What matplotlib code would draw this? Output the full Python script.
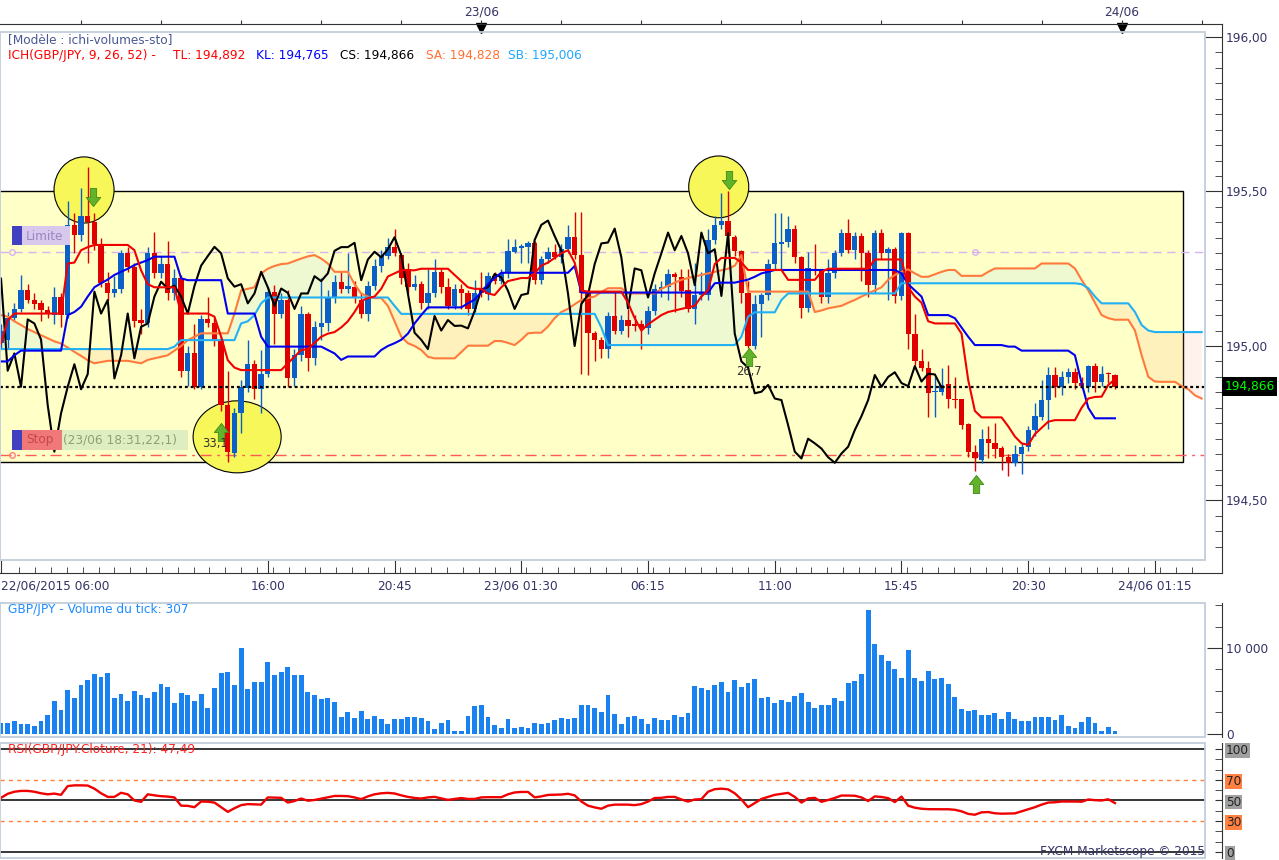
import numpy as np
import matplotlib.pyplot as plt
from matplotlib.patches import Rectangle, Ellipse
from matplotlib.path import Path
from matplotlib.ticker import FixedLocator, FixedFormatter, MultipleLocator

W, H = 1279, 860
plt.rcParams['font.family'] = 'DejaVu Sans'
plt.rcParams['font.size'] = 8.7

# GBP/JPY 15 min candles, 22/06/2015 06:00 -> 23/06/2015 23:45
op = [195.01, 195.02, 195.09, 195.12, 195.18, 195.15, 195.138, 195.118, 195.10, 195.16,
      195.10, 195.39, 195.36, 195.42, 195.40, 195.33, 195.205, 195.17, 195.186, 195.30,
      195.256, 195.084, 195.073, 195.30, 195.235, 195.264, 195.17, 195.219, 194.92, 194.976,
      194.868, 195.086, 195.073, 195.021, 194.809, 194.653, 194.782, 194.863, 194.941, 194.86,
      194.909, 195.176, 195.105, 195.149, 194.895, 194.97, 195.105, 194.96, 195.062, 195.073,
      195.16, 195.208, 195.186, 195.19, 195.15, 195.105, 195.194, 195.26, 195.291, 195.32,
      195.294, 195.25, 195.19, 195.20, 195.138, 195.17, 195.24, 195.19, 195.13, 195.186,
      195.172, 195.12, 195.187, 195.167, 195.226, 195.21, 195.235, 195.305, 195.318, 195.32,
      195.334, 195.213, 195.28, 195.305, 195.287, 195.313, 195.352, 195.294, 195.17, 195.043,
      195.02, 194.99, 195.097, 195.05, 195.084, 195.068, 195.07, 195.057, 195.113, 195.183,
      195.19, 195.233, 195.222, 195.18, 195.12, 195.165, 195.165, 195.343, 195.392, 195.405,
      195.354, 195.308, 195.17, 195.00, 195.136, 195.165, 195.265, 195.33, 195.335, 195.38,
      195.287, 195.122, 195.25, 195.245, 195.157, 195.235, 195.30, 195.367, 195.31, 195.356,
      195.30, 195.197, 195.367, 195.30, 195.313, 195.162, 195.365, 195.04, 194.95, 194.928,
      194.85, 194.85, 194.877, 194.83, 194.827, 194.747, 194.658, 194.63, 194.70, 194.685,
      194.67, 194.64, 194.622, 194.652, 194.674, 194.728, 194.771, 194.825, 194.906, 194.868,
      194.90, 194.915, 194.88, 194.868, 194.935, 194.885, 194.91, 194.905]
hi = [195.07, 195.11, 195.14, 195.23, 195.20, 195.17, 195.15, 195.13, 195.19, 195.17,
      195.47, 195.43, 195.51, 195.58, 195.43, 195.35, 195.24, 195.225, 195.31, 195.32,
      195.27, 195.12, 195.32, 195.37, 195.29, 195.34, 195.25, 195.23, 195.00, 195.07,
      195.10, 195.16, 195.09, 195.03, 194.92, 194.80, 194.89, 195.02, 194.955, 194.987,
      195.19, 195.198, 195.17, 195.18, 194.99, 195.13, 195.11, 195.08, 195.219, 195.18,
      195.23, 195.24, 195.30, 195.21, 195.17, 195.21, 195.28, 195.31, 195.35, 195.38,
      195.30, 195.27, 195.23, 195.21, 195.25, 195.28, 195.25, 195.22, 195.20, 195.20,
      195.18, 195.215, 195.24, 195.24, 195.24, 195.25, 195.345, 195.345, 195.33, 195.34,
      195.34, 195.29, 195.32, 195.33, 195.33, 195.39, 195.435, 195.435, 195.18, 195.05,
      195.03, 195.11, 195.175, 195.10, 195.12, 195.10, 195.085, 195.13, 195.20, 195.21,
      195.25, 195.24, 195.25, 195.25, 195.27, 195.24, 195.38, 195.42, 195.495, 195.50,
      195.36, 195.31, 195.21, 195.165, 195.17, 195.28, 195.43, 195.43, 195.42, 195.39,
      195.29, 195.305, 195.33, 195.25, 195.28, 195.31, 195.38, 195.41, 195.37, 195.365,
      195.31, 195.375, 195.38, 195.32, 195.32, 195.37, 195.37, 195.105, 194.99, 194.95,
      194.90, 194.93, 194.94, 194.90, 194.83, 194.75, 194.68, 194.73, 194.74, 194.75,
      194.675, 194.65, 194.68, 194.685, 194.74, 194.815, 194.89, 194.933, 194.933, 194.92,
      194.93, 194.93, 194.90, 194.94, 194.946, 194.935, 194.915, 194.91]
lo = [194.99, 194.99, 195.08, 195.11, 195.14, 195.12, 195.08, 195.09, 195.07, 195.06,
      195.09, 195.30, 195.34, 195.27, 195.31, 195.19, 195.15, 195.16, 195.17, 195.24,
      195.06, 195.04, 195.06, 195.22, 195.22, 195.15, 195.15, 194.90, 194.87, 194.86,
      194.86, 195.06, 195.00, 194.79, 194.625, 194.64, 194.72, 194.85, 194.83, 194.782,
      194.90, 195.008, 195.09, 194.868, 194.87, 194.95, 194.92, 194.94, 195.02, 195.05,
      195.14, 195.17, 195.17, 195.14, 195.09, 195.08, 195.18, 195.24, 195.28, 195.29,
      195.20, 195.17, 195.18, 195.12, 195.12, 195.16, 195.17, 195.12, 195.12, 195.12,
      195.10, 195.11, 195.16, 195.15, 195.20, 195.20, 195.22, 195.30, 195.27, 195.27,
      195.20, 195.20, 195.27, 195.28, 195.27, 195.30, 195.28, 194.91, 194.906, 194.95,
      194.96, 194.96, 195.04, 195.04, 195.03, 195.05, 194.99, 195.04, 195.10, 195.16,
      195.15, 195.11, 195.16, 195.11, 195.07, 195.15, 195.15, 195.33, 195.38, 195.30,
      195.29, 195.14, 194.995, 194.99, 195.03, 195.15, 195.25, 195.25, 195.32, 195.27,
      195.09, 195.11, 195.23, 195.14, 195.14, 195.22, 195.29, 195.30, 195.28, 195.21,
      195.16, 195.17, 195.28, 195.15, 195.14, 195.15, 194.99, 194.94, 194.92, 194.77,
      194.77, 194.84, 194.80, 194.80, 194.73, 194.64, 194.594, 194.62, 194.636, 194.636,
      194.60, 194.58, 194.61, 194.587, 194.66, 194.71, 194.76, 194.73, 194.836, 194.84,
      194.88, 194.86, 194.86, 194.85, 194.85, 194.87, 194.88, 194.86]
cl = [195.05, 195.09, 195.12, 195.18, 195.15, 195.135, 195.118, 195.105, 195.16, 195.10,
      195.39, 195.36, 195.42, 195.40, 195.33, 195.205, 195.17, 195.186, 195.30, 195.256,
      195.08, 195.073, 195.30, 195.235, 195.264, 195.17, 195.219, 194.92, 194.976, 194.868,
      195.086, 195.073, 195.021, 194.809, 194.658, 194.782, 194.868, 194.941, 194.86, 194.909,
      195.176, 195.105, 195.149, 194.895, 194.97, 195.105, 194.96, 195.062, 195.073, 195.16,
      195.208, 195.186, 195.195, 195.16, 195.105, 195.194, 195.26, 195.291, 195.321, 195.30,
      195.219, 195.192, 195.20, 195.138, 195.17, 195.24, 195.19, 195.13, 195.186, 195.172,
      195.12, 195.17, 195.17, 195.226, 195.21, 195.235, 195.308, 195.32, 195.32, 195.334,
      195.213, 195.28, 195.305, 195.287, 195.313, 195.352, 195.294, 195.17, 195.043, 195.02,
      194.99, 195.097, 195.05, 195.084, 195.065, 195.066, 195.057, 195.113, 195.183, 195.19,
      195.233, 195.222, 195.179, 195.12, 195.165, 195.17, 195.343, 195.392, 195.406, 195.356,
      195.309, 195.17, 195.00, 195.136, 195.165, 195.265, 195.332, 195.335, 195.38, 195.287,
      195.122, 195.251, 195.245, 195.157, 195.235, 195.30, 195.367, 195.31, 195.356, 195.30,
      195.197, 195.367, 195.30, 195.313, 195.162, 195.365, 195.04, 194.95, 194.93, 194.847,
      194.852, 194.874, 194.83, 194.825, 194.744, 194.658, 194.636, 194.70, 194.685, 194.668,
      194.64, 194.622, 194.652, 194.674, 194.728, 194.773, 194.825, 194.906, 194.868, 194.90,
      194.915, 194.88, 194.87, 194.935, 194.885, 194.91, 194.908, 194.866]

volume = [1232, 1309, 1500, 1155, 1155, 963, 1500, 2195, 3810, 2772,
          5082, 4158, 5660, 6237, 6930, 6622, 7045, 4158, 4620, 3810,
          4966, 4504, 4158, 4851, 5775, 5428, 3580, 4735, 4504, 3810,
          4620, 3003, 5313, 7045, 7161, 5660, 10048, 5197, 6006, 6006,
          8316, 6814, 7161, 7738, 6814, 6814, 4851, 4504, 4042, 4158,
          3696, 1963, 2541, 1848, 2656, 1732, 2079, 1732, 1155, 1732,
          1732, 1963, 1963, 1848, 1500, 577, 1270, 1617, 346, 346,
          2079, 3234, 3349, 1963, 1039, 693, 1732, 693, 808, 693,
          1270, 1193, 1270, 1617, 1848, 1771, 1848, 3349, 3349, 3003,
          2541, 4504, 2310, 1155, 1963, 2079, 1732, 1155, 1848, 1617,
          1617, 2195, 1963, 2425, 5544, 5313, 5082, 5660, 6006, 4851,
          6237, 5428, 5890, 6352, 4158, 4273, 3580, 3927, 3696, 4389,
          4735, 3696, 3003, 3349, 3349, 4158, 3811, 5890, 6121, 6930,
          14437, 10510, 9240, 8431, 7507, 6468, 9817, 6468, 6121, 7276,
          6352, 6468, 5775, 4273, 2887, 2656, 2772, 2195, 2195, 2425,
          1732, 2541, 1732, 1500, 1500, 1963, 1963, 1963, 1617, 2195,
          924, 693, 1386, 1963, 1270, 346, 808, 307]

rsi = [52.6, 56.5, 58.5, 59.3, 59.3, 58.5, 57, 56, 56.7, 55.5,
       64, 64.7, 64.7, 64.5, 61.5, 57, 53.5, 53.5, 57.5, 56,
       50, 48.7, 56, 55, 54.2, 53.8, 53, 45, 44.8, 43.5,
       49, 48.8, 48, 43.5, 39, 42.5, 45.5, 46.5, 46.2, 46,
       53, 52.8, 52.6, 48, 49.5, 51.9, 49.8, 50.5, 51.8, 53,
       54.4, 54.4, 54.2, 53, 51.3, 54, 56, 57, 57.4, 56.8,
       55, 53.5, 52.5, 51.9, 53, 53.5, 52, 50.6, 51.5, 52.4,
       51.5, 51.5, 53, 53.2, 53.2, 53.2, 56, 57.8, 58.3, 58.3,
       53, 54, 55.4, 55.6, 55.8, 56.5, 55, 49, 45, 43.3,
       42, 45, 46, 46, 46, 45.5, 46.5, 49, 52.4, 52.6,
       53.5, 53.5, 51, 49, 51, 51.3, 58.5, 61, 61.5, 60.8,
       57, 51, 43.5, 47.5, 51.5, 53.5, 55.5, 56.5, 57.4, 53.5,
       48, 52, 52.6, 48.7, 50.5, 52.5, 54.8, 54.8, 54.6, 53,
       49.5, 54, 53.4, 52.3, 48.5, 53.8, 45, 43, 42, 41.6,
       41.5, 41.5, 41.5, 41, 39.5, 37, 36.2, 38.5, 38.8, 37.6,
       37.2, 37.3, 37.5, 39.5, 41.5, 43.5, 46, 48, 48.3, 49,
       49, 49, 48.8, 51, 50.3, 50, 51.2, 47.49]

# Ichimoku (9, 26, 52) lines
tenkan = [195.008, 195.084, 195.105, 195.105, 195.105, 195.105, 195.105, 195.105, 195.105, 195.105,
          195.267, 195.27, 195.31, 195.32, 195.327, 195.327, 195.327, 195.327, 195.327, 195.327,
          195.31, 195.245, 195.20, 195.19, 195.19, 195.19, 195.19, 195.105, 195.105, 195.105,
          195.105, 195.105, 195.095, 195.03, 194.954, 194.93, 194.922, 194.922, 194.922, 194.922,
          194.922, 194.922, 194.922, 194.944, 194.965, 194.987, 194.99, 195.01, 195.03, 195.04,
          195.045, 195.06, 195.08, 195.11, 195.145, 195.155, 195.16, 195.185, 195.225, 195.235,
          195.245, 195.245, 195.245, 195.25, 195.25, 195.25, 195.25, 195.25, 195.23, 195.21,
          195.19, 195.185, 195.185, 195.17, 195.165, 195.19, 195.21, 195.215, 195.22, 195.22,
          195.235, 195.26, 195.27, 195.285, 195.30, 195.31, 195.27, 195.18, 195.176, 195.176,
          195.176, 195.176, 195.176, 195.176, 195.14, 195.09, 195.05, 195.07, 195.085, 195.10,
          195.11, 195.115, 195.12, 195.125, 195.13, 195.16, 195.18, 195.265, 195.285, 195.285,
          195.285, 195.27, 195.246, 195.246, 195.246, 195.246, 195.246, 195.246, 195.214, 195.214,
          195.214, 195.214, 195.214, 195.24, 195.25, 195.25, 195.25, 195.25, 195.25, 195.25,
          195.25, 195.28, 195.28, 195.28, 195.28, 195.28, 195.19, 195.16, 195.14, 195.08,
          195.073, 195.073, 195.073, 195.073, 195.04, 194.89, 194.79, 194.769, 194.769, 194.769,
          194.769, 194.74, 194.707, 194.685, 194.68, 194.715, 194.735, 194.755, 194.76, 194.76,
          194.76, 194.76, 194.80, 194.83, 194.835, 194.836, 194.874, 194.892]
kijun = ([194.95, 194.95, 194.97] + [194.985] * 7 +
         [195.10, 195.11, 195.127, 195.16, 195.19, 195.203, 195.215, 195.23, 195.24, 195.25,
          195.262, 195.27, 195.278, 195.289, 195.289, 195.289, 195.289, 195.219] +
         [195.213] * 6 + [195.105] * 5 + [195.03] + [194.998] * 9 +
         [194.987, 194.976, 194.955] + [194.966] * 5 + [194.987, 195.00, 195.009,
          195.02, 195.04, 195.073, 195.10] + [195.125] * 6 +
         [195.138, 195.15, 195.175, 195.20, 195.22] + [195.237] * 11 + [195.259] +
         [195.173] * 20 + [195.203, 195.205, 195.205, 195.205, 195.21, 195.215, 195.224,
          195.235, 195.24] + [195.246] * 19 +
         [195.235, 195.20, 195.18, 195.16] + [195.10] * 4 + [195.09, 195.06, 195.03] +
         [195.003] * 5 + [194.998, 194.998] + [194.985] * 8 +
         [194.97, 194.88, 194.80] + [194.766] * 4)
senkou_a = [195.10, 195.095, 195.08, 195.068, 195.055, 195.045, 195.035, 195.025, 195.015, 195.008,
            194.995, 194.981, 194.968, 194.954, 194.944, 194.948, 194.952, 194.952, 194.952, 194.952,
            194.948, 194.944, 194.955, 194.96, 194.965, 194.97, 194.985, 195.00, 195.019, 195.03,
            195.041, 195.041, 195.041, 195.041, 195.041, 195.105, 195.18, 195.185, 195.19, 195.235,
            195.25, 195.259, 195.265, 195.267, 195.275, 195.283, 195.29, 195.294, 195.283, 195.267,
            195.24, 195.24, 195.24, 195.20, 195.17, 195.16, 195.155, 195.155, 195.13, 195.08,
            195.03, 195.009, 195.00, 194.987, 194.965, 194.96, 194.96, 194.96, 194.96, 194.98,
            195.001, 195.001, 195.001, 195.001, 195.016, 195.016, 195.01, 195.003, 195.02, 195.041,
            195.043, 195.043, 195.063, 195.09, 195.11, 195.12, 195.135, 195.149, 195.155, 195.16,
            195.175, 195.187, 195.187, 195.187, 195.17, 195.17, 195.17, 195.17, 195.17, 195.185,
            195.195, 195.205, 195.214, 195.22, 195.225, 195.23, 195.235, 195.24, 195.245, 195.25,
            195.26, 195.294, 195.176, 195.176, 195.176, 195.176, 195.176, 195.176, 195.176, 195.176,
            195.176, 195.176, 195.11, 195.115, 195.122, 195.126, 195.13, 195.14, 195.149, 195.16,
            195.17, 195.18, 195.19, 195.214, 195.23, 195.24, 195.248, 195.235, 195.224, 195.224,
            195.232, 195.24, 195.246, 195.246, 195.227, 195.227, 195.227, 195.227, 195.24, 195.251,
            195.251, 195.251, 195.251, 195.251, 195.251, 195.251, 195.267, 195.267, 195.267, 195.267,
            195.267, 195.251, 195.214, 195.18, 195.14, 195.10, 195.09, 195.085, 195.085, 195.085,
            195.05, 194.97, 194.90, 194.885, 194.884, 194.884, 194.884, 194.87, 194.86, 194.84, 194.83]
senkou_b = ([194.99] * 26 + [194.998] + [195.019] * 9 + [195.073, 195.08, 195.10, 195.138] +
            [195.157] * 19 + [195.13] + [195.104] * 30 + [195.06] + [195.003] * 20 +
            [195.03, 195.095, 195.109, 195.109, 195.109, 195.109, 195.149] + [195.17] * 17 +
            [195.203] * 27 + [195.20, 195.187, 195.16] + [195.138] * 5 +
            [195.11, 195.068, 195.05] + [195.045] * 8)

op, hi, lo, cl = map(np.array, (op, hi, lo, cl))
idx = np.arange(len(cl))
idx_ext = np.arange(len(senkou_a))
sa = np.array(senkou_a)
sb = np.array(senkou_b)

fig = plt.figure(figsize=(W / 100, H / 100), dpi=100)


def fx(x):
    return x / W


def fy(y):
    return 1 - y / H


def panel(top, bottom):
    a = fig.add_axes([0, fy(bottom), 1205 / W, (bottom - top) / H])
    for s in ('top', 'left', 'bottom'):
        a.spines[s].set_visible(False)
    a.spines['right'].set_position(('outward', 12.24))
    a.spines['right'].set_color('#333333')
    a.add_patch(Rectangle((0, 0), 1, 1, transform=a.transAxes, fill=False,
                          edgecolor='#C3CEDC', lw=1.3, clip_on=False, zorder=20))
    a.set_xlim(-0.15, 180.5)
    a.yaxis.tick_right()
    a.tick_params(axis='y', which='both', direction='in', colors='#333333',
                  labelcolor='#333366', labelsize=8.7, pad=3)
    a.tick_params(axis='y', which='minor', length=5)
    return a


LABEL = '#333366'

# ---------------- main price panel ----------------
ax = panel(32, 560)
ax.set_ylim(194.3074, 196.0162)

ax.add_patch(Rectangle((-0.5, 194.625), 177.7, 0.875, facecolor='#FFFFC8',
                       edgecolor='black', lw=1, zorder=0.5))
ax.fill_between(idx_ext, sa, sb, where=sa >= sb, interpolate=True,
                color='#A0DCFF', alpha=0.17, lw=0, zorder=1)
ax.fill_between(idx_ext, sa, sb, where=sa < sb, interpolate=True,
                color='#FF9060', alpha=0.12, lw=0, zorder=1)

for cx, cy, ew, eh in [(12.45, 195.505, 9, 0.214), (35.4, 194.706, 13.2, 0.233),
                       (107.6, 195.515, 9, 0.20)]:
    ax.add_patch(Ellipse((cx, cy), ew, eh, facecolor='#F7F75A', edgecolor='black',
                         lw=0.8, zorder=1.5))

ax.axhline(195.305, color='#D6B4EE', lw=1, dashes=(6, 4), zorder=2)
ax.axhline(194.647, color='#FF5A5A', lw=1, dashes=(8, 4, 2, 4), zorder=2)
ax.plot([1.65, 146], [195.305, 195.305], 'o', ms=4, mfc='none', mec='#D6B4EE', zorder=2)
ax.plot([1.65, 146], [194.647, 194.647], 'o', ms=4, mfc='none', mec='#FF8080', zorder=2)

up = cl >= op
ccol = np.where(up, '#0A60C8', '#E00000')
ax.vlines(idx, lo, hi, colors=ccol, lw=1, zorder=3)
ax.bar(idx, np.maximum(np.abs(cl - op), 0.005), bottom=np.minimum(op, cl),
       width=0.8, color=ccol, lw=0, zorder=3.1)

ax.plot(idx_ext, sa, color='#FF7A3C', lw=1.5, zorder=4)
ax.plot(idx_ext, sb, color='#22B0F5', lw=1.5, zorder=4)
ax.plot(idx - 26, cl, color='black', lw=1.5, zorder=4.1)
ax.plot(idx, kijun, color='#0000EE', lw=1.5, zorder=4.2)
ax.plot(idx, tenkan, color='#F00000', lw=1.5, zorder=4.3)
ax.axhline(194.866, color='black', lw=1.6, linestyle=(0, (1.3, 1.3)), zorder=5)

up_arrow = Path([(-0.35, -1), (0.35, -1), (0.35, 0), (0.8, 0), (0, 1), (-0.8, 0),
                 (-0.35, 0), (-0.35, -1)], closed=True)
down_arrow = Path([(x, -y) for x, y in up_arrow.vertices], closed=True)
ax.scatter([13.8, 109.1], [195.482, 195.537], marker=down_arrow, s=170,
           c='#62B22A', edgecolors='#3E8A14', linewidths=0.6, zorder=6)
ax.scatter([33, 112.1, 146.2], [194.722, 194.964, 194.553], marker=up_arrow, s=170,
           c='#62B22A', edgecolors='#3E8A14', linewidths=0.6, zorder=6)
ax.text(32.1, 194.683, '33,1', ha='center', va='center', fontsize=8.3, color='#303030', zorder=6)
ax.text(112.1, 194.919, '26,7', ha='center', va='center', fontsize=8.3, color='#303030', zorder=6)

ax.set_yticks([194.5, 195.0, 195.5, 196.0])
ax.set_yticklabels(['194,50', '195,00', '195,50', '196,00'])
ax.yaxis.set_minor_locator(MultipleLocator(0.05))
ax.tick_params(axis='y', which='major', length=12.2)
ax.spines['right'].set_bounds(194.2654, 196.0421)

# bottom time axis
ax.spines['bottom'].set_visible(True)
ax.spines['bottom'].set_position(('outward', 9.36))
ax.spines['bottom'].set_color('#333333')
ax.spines['bottom'].set_bounds(-0.15, 183.06)
xt = [0, 40, 59, 78, 97, 116, 135, 154, 173]
xl = ['22/06/2015 06:00', '16:00', '20:45', '23/06 01:30', '06:15', '11:00',
      '15:45', '20:30', '24/06 01:15']
ax.xaxis.set_major_locator(FixedLocator(xt))
ax.xaxis.set_major_formatter(FixedFormatter(xl))
ax.xaxis.set_minor_locator(FixedLocator(np.arange(2.75, 183, 19 / 8)))
ax.tick_params(axis='x', which='both', direction='in', colors='#333333',
               labelcolor=LABEL, labelsize=8.7, pad=5)
ax.tick_params(axis='x', which='major', length=9.4)
ax.tick_params(axis='x', which='minor', length=4.5)
ax.get_xticklabels()[0].set_ha('left')

# top date axis
axt = ax.twiny()
axt.set_xlim(ax.get_xlim())
for s in ('left', 'right', 'bottom'):
    axt.spines[s].set_visible(False)
axt.spines['top'].set_position(('outward', 5.76))
axt.spines['top'].set_color('#333333')
axt.spines['top'].set_bounds(-0.15, 183.06)
tt = list(range(12, 181, 12))
axt.xaxis.set_major_locator(FixedLocator(tt))
axt.xaxis.set_major_formatter(FixedFormatter(['23/06' if t == 72 else '24/06' if t == 168 else ''
                                              for t in tt]))
axt.tick_params(axis='x', direction='out', length=3, colors='#333333', labelcolor=LABEL,
                labelsize=8.7, pad=1)
ax.plot([72, 168], [196.029, 196.029], ls='none', marker='v', ms=6.5, color='black',
        clip_on=False, zorder=8)

# ---------------- volume panel ----------------
axv = panel(603, 737)
axv.set_ylim(-350, 15233)
axv.bar(idx, volume, width=0.72, color='#1A82F0', lw=0)
axv.set_yticks([0, 10000])
axv.set_yticklabels(['0', '10 000'])
axv.yaxis.set_minor_locator(MultipleLocator(2500))
axv.tick_params(axis='y', which='major', length=10.8)
axv.set_xticks([])

# ---------------- RSI panel ----------------
axr = panel(743, 858)
axr.set_ylim(-5.8, 105.8)
for lvl in (100, 50, 0):
    axr.axhline(lvl, color='black', lw=1.1, zorder=2)
for lvl in (70, 30):
    axr.axhline(lvl, color='#FF8040', lw=1, dashes=(3, 3), zorder=2)
axr.plot(idx, rsi, color='#F00000', lw=1.7, zorder=3)
axr.set_yticks([0, 30, 50, 70, 100])
axr.set_yticklabels(['0', '30', '50', '70', '100'])
axr.yaxis.set_minor_locator(MultipleLocator(10))
axr.tick_params(axis='y', which='major', length=5, labelcolor='#222222')
axr.set_xticks([])
for lab, col in zip(axr.get_yticklabels(), ['#A0A0A0', '#FF8040', '#A0A0A0', '#FF8040', '#A0A0A0']):
    lab.set_bbox(dict(facecolor=col, edgecolor='none', pad=0.6))

# ---------------- texts and tags ----------------
fig.text(fx(8), fy(40), '[Modèle : ichi-volumes-sto]', color='#4A5894', va='center')
for txt, x, col in [('ICH(GBP/JPY, 9, 26, 52) -', 8, '#FF0000'), ('TL: 194,892', 173, '#FF0000'),
                    ('KL: 194,765', 256, '#0000FF'), ('CS: 194,866', 340, '#000000'),
                    ('SA: 194,828', 426, '#FF7033'), ('SB: 195,006', 508, '#1EA8FF')]:
    fig.text(fx(x), fy(55), txt, color=col, va='center')
fig.text(fx(8), fy(610), 'GBP/JPY - Volume du tick: 307', color='#1E8CFF', va='center')
fig.text(fx(8), fy(750), 'RSI(GBP/JPY.Cloture, 21): 47,49', color='#FF2020', va='center', zorder=30)
fig.text(fx(1205), fy(851), 'FXCM Marketscope © 2015', color=LABEL, va='center', ha='right')


def fig_rect(x0, y0, x1, y1, color, alpha=1.0):
    fig.add_artist(Rectangle((fx(x0), fy(y1)), (x1 - x0) / W, (y1 - y0) / H,
                             transform=fig.transFigure, facecolor=color, edgecolor='none',
                             alpha=alpha, zorder=25))


fig_rect(12, 226, 22, 245, '#4040C0')
fig_rect(22, 226, 70, 245, '#D8C8EE')
fig.text(fx(26), fy(236), 'Limite', color='#9A86C0', va='center', zorder=30)
fig_rect(12, 430, 22, 450, '#4040C0')
fig_rect(22, 430, 62, 450, '#F07878')
fig.text(fx(26), fy(440), 'Stop', color='#C84848', va='center', zorder=30)
fig_rect(62, 430, 188, 450, '#D8EAC0', 0.8)
fig.text(fx(63), fy(440), '(23/06 18:31,22,1)', color='#8CA070', va='center', zorder=30)

fig_rect(1222, 377, 1277, 396, '#000000')
fig.text(fx(1225), fy(386.5), '194,866', color='#00FF00', va='center', zorder=30)

fig.savefig('out.png', dpi=100)
